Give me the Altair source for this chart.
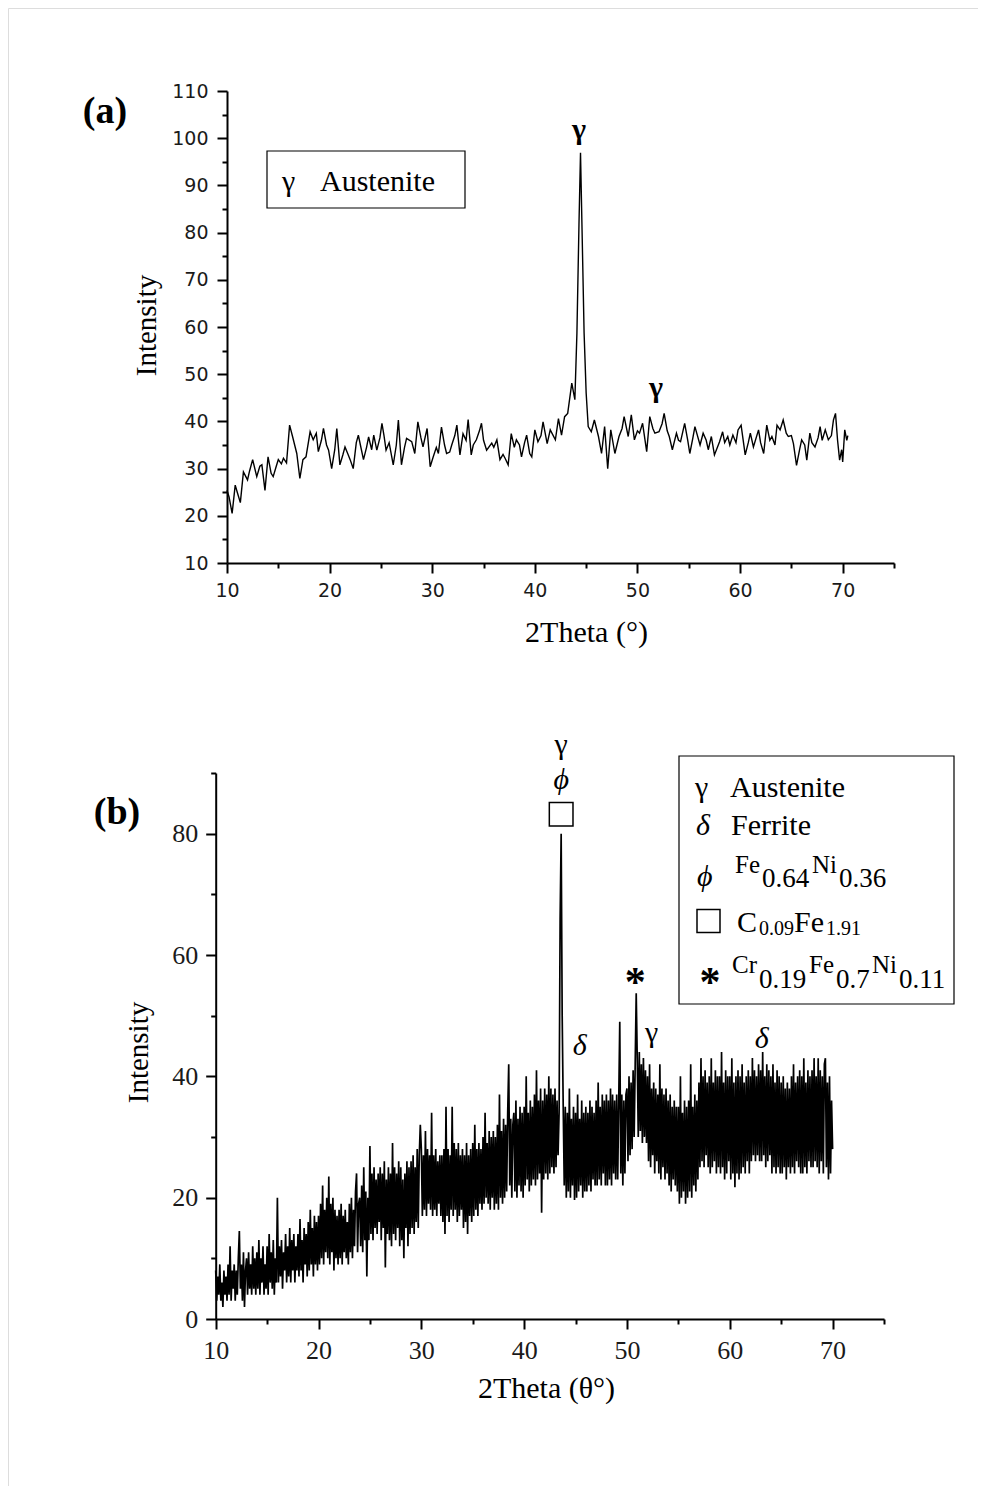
import altair as alt
import pandas as pd
import numpy as np

# ---------------- Panel (a) data ----------------
A_THETA = [10.0, 10.2, 10.5, 10.8, 11.0, 11.3, 11.6, 12.0, 12.2, 12.5, 12.9, 13.2, 13.4, 13.7, 14.0,
           14.3, 14.5, 14.8, 15.0, 15.3, 15.5, 15.8, 16.1, 16.4, 16.8, 17.1, 17.4, 17.7, 18.1, 18.4,
           18.7, 18.9, 19.2, 19.4, 19.7, 19.9, 20.2, 20.5, 20.7, 21.0, 21.3, 21.5, 21.8, 22.0, 22.3,
           22.6, 22.8, 23.0, 23.3, 23.6, 23.8, 24.1, 24.3, 24.6, 24.9, 25.1, 25.3, 25.5, 25.8, 26.2,
           26.5, 26.7, 27.0, 27.3, 27.5, 28.0, 28.3, 28.6, 28.9, 29.1, 29.5, 29.8, 30.1, 30.4, 30.6,
           30.9, 31.2, 31.4, 31.7, 31.9, 32.2, 32.4, 32.7, 33.0, 33.3, 33.5, 33.8, 34.0, 34.3, 34.6,
           34.8, 35.0, 35.3, 35.8, 36.0, 36.3, 36.6, 36.9, 37.1, 37.4, 37.7, 38.0, 38.2, 38.5, 38.7,
           39.0, 39.2, 39.5, 39.7, 40.0, 40.3, 40.6, 40.8, 41.2, 41.5, 42.0, 42.3, 42.6, 42.9, 43.2,
           43.6, 43.9, 44.1, 44.3, 44.45, 44.6, 44.8, 45.0, 45.2, 45.5, 45.8, 46.2, 46.5, 46.8, 47.1,
           47.4, 47.8, 48.2, 48.5, 48.7, 49.1, 49.4, 49.7, 50.0, 50.2, 50.5, 50.9, 51.2, 51.5, 51.7,
           52.1, 52.4, 52.6, 52.9, 53.1, 53.4, 53.8, 54.0, 54.2, 54.6, 54.9, 55.1, 55.4, 55.6, 56.1,
           56.4, 56.7, 56.9, 57.2, 57.5, 58.0, 58.3, 58.5, 58.8, 59.0, 59.3, 59.6, 59.8, 60.1, 60.5,
           60.8, 61.0, 61.3, 61.8, 62.0, 62.3, 62.6, 62.9, 63.1, 63.4, 63.6, 63.9, 64.2, 64.5, 64.7,
           65.0, 65.2, 65.5, 65.8, 66.0, 66.3, 66.5, 66.8, 67.0, 67.3, 67.6, 67.8, 68.0, 68.3, 68.6,
           68.9, 69.1, 69.3, 69.5, 69.7, 69.9, 70.0, 70.2, 70.4, 70.5]
A_INT = [25.4, 24.0, 20.5, 26.5, 25.0, 22.8, 29.3, 27.6, 29.5, 31.9, 28.3, 30.5, 30.8, 25.4, 32.5,
         29.0, 28.3, 30.5, 31.9, 31.0, 32.2, 31.2, 39.2, 36.7, 33.2, 27.9, 31.9, 32.5, 37.8, 36.1,
         37.5, 33.6, 36.0, 38.5, 35.0, 33.9, 30.0, 34.0, 38.5, 30.8, 33.0, 34.6, 33.0, 31.9, 30.0,
         35.5, 37.1, 35.0, 31.9, 34.5, 36.7, 34.0, 37.1, 33.9, 36.5, 39.6, 37.0, 33.9, 35.5, 30.8,
         35.0, 40.3, 30.8, 34.5, 36.4, 35.7, 33.2, 39.9, 36.5, 34.6, 38.5, 30.4, 32.5, 34.5, 33.2,
         38.8, 35.0, 33.2, 33.5, 35.0, 37.0, 39.2, 32.9, 37.4, 36.0, 40.4, 32.9, 35.0, 36.1, 38.0,
         39.6, 36.0, 33.9, 35.4, 34.5, 36.1, 31.9, 33.0, 32.2, 30.8, 37.4, 34.5, 36.1, 35.0, 32.5,
         35.5, 37.1, 33.2, 32.5, 38.2, 35.7, 37.0, 39.9, 35.3, 38.2, 36.1, 40.6, 37.1, 41.0, 41.7,
         48.1, 44.6, 58.7, 81.7, 96.9, 80.6, 58.7, 46.0, 38.9, 37.8, 40.3, 36.8, 33.2, 38.9, 30.0,
         38.2, 33.2, 36.8, 38.5, 41.0, 36.8, 41.4, 36.1, 38.0, 37.5, 39.6, 33.6, 41.0, 38.5, 37.5,
         37.8, 39.5, 41.7, 38.0, 36.8, 34.0, 37.5, 36.0, 35.7, 39.6, 36.0, 33.2, 36.5, 38.9, 35.0,
         37.5, 36.0, 34.0, 36.8, 32.9, 35.7, 37.8, 35.5, 36.8, 35.0, 37.1, 35.5, 38.2, 39.2, 32.9,
         35.5, 37.5, 34.6, 38.2, 35.5, 33.2, 39.2, 36.0, 36.8, 35.0, 39.2, 38.2, 40.3, 37.5, 36.8,
         37.0, 35.3, 30.7, 34.0, 36.1, 35.0, 31.8, 37.5, 35.5, 34.6, 36.5, 38.9, 36.0, 38.2, 36.1,
         37.0, 40.3, 41.7, 36.0, 31.8, 34.0, 31.4, 38.2, 36.0, 37.0]
A_PEAK_THETA = [44.3, 51.8]
A_PEAK_INT = [101.7, 47.0]
A_PEAK_LABEL = ["γ", "γ"]

# ---------------- Panel (b) data ----------------
B_THETA_START = 10.0
B_THETA_STEP = 0.1
B_INT = [
    8, 3, 7, 4, 9, 3, 6, 2, 8, 4,
    7, 3, 9, 4, 12, 3, 8, 5, 9, 3,
    8, 4, 10, 14.5, 5, 9, 3, 11, 2, 8,
    10, 4, 11, 5, 9, 4, 12, 5, 10, 4,
    11, 5, 13, 4, 10, 6, 12, 4, 9, 5,
    12, 4, 14, 6, 11, 5, 13, 4, 10, 6,
    20, 6, 12, 7, 13, 5, 11, 8, 14, 6,
    12, 7, 15, 6, 13, 8, 14, 6, 12, 8,
    14, 7, 16.5, 8, 13, 6, 15, 9, 14, 7,
    16, 8, 18, 9, 15, 7, 17, 9, 16, 8,
    17, 9, 19, 10, 22, 9, 18, 11, 20, 10,
    23.5, 9, 19, 11, 20, 8, 18, 10, 17, 9,
    18, 10, 19, 9, 17, 11, 18, 10, 16, 9,
    19, 11, 20, 10, 18, 12, 21, 24, 11, 19,
    20, 12, 22, 11, 25, 13, 21, 7, 20, 13,
    28.5, 14, 24, 13, 25, 15, 23, 14, 24, 16,
    25, 13, 24, 15, 26, 8.5, 23, 14, 25, 13,
    24, 12, 29, 14, 25, 13, 24, 15, 26, 12,
    25, 13, 23, 10, 24, 15, 26, 12, 25, 14,
    26, 15, 27, 14, 25, 16, 28, 15, 27, 32,
    28, 17, 27, 18, 31, 17, 28, 19, 27, 18,
    34, 17, 27, 18, 28, 17, 26, 19, 27, 17,
    27, 16, 28, 14, 35, 17, 28, 16, 27, 18,
    35, 17, 29, 18, 28, 16, 29, 17, 27, 18,
    28, 15, 27, 16, 29, 14, 27, 17, 28, 16,
    29, 17, 32, 18, 28, 17, 29, 19, 28, 18,
    30, 19, 34, 20, 29, 19, 31, 18, 30, 20,
    31, 18, 30, 19, 32, 18, 37, 20, 31, 19,
    33, 20, 32, 21, 34, 42, 22, 33, 20, 32,
    34, 21, 36, 20, 33, 22, 35, 21, 34, 20,
    35, 22, 40, 23, 34, 21, 36, 22, 35, 23,
    37, 22, 41, 23, 36, 24, 38, 17.5, 36, 23,
    38, 24, 37, 23, 40, 24, 38, 25, 37, 24,
    38, 25, 36, 27, 34, 66, 80, 50, 35, 22,
    35, 20, 34, 21, 38, 20, 33, 22, 35, 19.6,
    34, 20, 37, 21, 33, 22, 36, 20, 34, 21,
    35, 21, 34, 22, 36, 21, 35, 23, 34, 22,
    36, 22, 39, 23, 35, 22, 37, 24, 36, 22,
    37, 22, 36, 23, 38, 22, 37, 24, 36, 23,
    37, 23, 36, 49, 24, 37, 22, 36, 24, 37,
    38, 26, 40, 27, 39, 28, 41, 30, 42, 53.7,
    43, 30, 44, 31, 42, 29, 43, 30, 41, 29,
    40, 26, 42, 25, 38, 27, 39, 24, 38, 26,
    37, 24, 42, 23, 38, 25, 37, 23, 38, 24,
    36, 22, 37, 21, 35, 23, 36, 22, 35, 21,
    35, 19, 40, 20, 34, 21, 36, 19, 35, 20,
    36, 21, 42, 20, 35, 22, 37, 21, 36, 23,
    39, 25, 43, 26, 40, 25, 41, 27, 39, 25,
    40, 24, 43, 25, 39, 26, 41, 24, 40, 25,
    40, 24, 44, 25, 39, 23, 41, 24, 40, 26,
    40, 23, 43, 24, 39, 21.7, 40, 24, 41, 23,
    40, 24, 42, 25, 39, 24, 40, 26, 41, 24,
    40, 26, 43, 27, 41, 26, 40, 27, 42, 26,
    41, 26, 44, 27, 40, 25, 42, 26, 41, 27,
    40, 24, 42, 25, 39, 24, 41, 25, 40, 24,
    39, 24, 40, 25, 38, 23, 39, 25, 38, 24,
    40, 25, 42, 24, 39, 26, 40, 25, 41, 24,
    40, 24, 43, 25, 39, 24, 41, 26, 40, 25,
    41, 25, 43, 26, 40, 25, 43, 24, 41, 26,
    40, 24, 42, 43, 25, 39, 23, 40, 24, 36,
    28,
]
B_THETA = [round(B_THETA_START + B_THETA_STEP * i, 2) for i in range(len(B_INT))]

B_UP_LABEL = ["γ", "γ"]
B_UP_THETA = [43.6, 52.4]
B_UP_INT = [94.6, 47.1]
B_IT_LABEL = ["ϕ", "δ", "δ"]
B_IT_THETA = [43.6, 45.4, 63.1]
B_IT_INT = [88.8, 45.0, 46.1]
B_STAR_THETA = [50.8]
B_STAR_INT = [56.7]
B_BOX_THETA = [43.6]
B_BOX_INT = [83.2]

SERIF = "Liberation Serif"
W, H = 970, 1478

df_a = pd.DataFrame({"theta": A_THETA, "intensity": A_INT})
df_b = pd.DataFrame({"theta": B_THETA, "intensity": B_INT})

sx_a = alt.Scale(domain=[10, 75], range=[219, 886], nice=False, zero=False)
sy_a = alt.Scale(domain=[10, 110], range=[555, 83], nice=False, zero=False)
sx_b = alt.Scale(domain=[10, 75], range=[207.7, 876], nice=False, zero=False)
sy_b = alt.Scale(domain=[0, 90], range=[1311, 765], nice=False, zero=False)

common = dict(grid=False, tickColor="black", tickWidth=2, domainColor="black",
              domainWidth=2, labelFlush=False, labelOverlap=False)


def major_axis(values, orient, offset, title, tx, ty, lfont, lsize, lpad, tsize, angle):
    return alt.Axis(values=values, orient=orient, offset=offset, title=title,
                    titleX=tx, titleY=ty, titleAngle=angle, titleAlign="center",
                    titleBaseline="middle", titleFont=SERIF, titleFontSize=tsize,
                    titleFontWeight="normal", titleColor="black",
                    labelFont=lfont, labelFontSize=lsize, labelColor="#1a1a1a",
                    labelPadding=lpad, tickSize=10, format="d", **common)


def minor_axis(values, orient, offset):
    return alt.Axis(values=values, orient=orient, offset=offset, title=None,
                    labels=False, domain=False, tickSize=5, **common)


def txt(text, x, y, size, style="normal", weight="normal", align="left",
        baseline="alphabetic", font=SERIF):
    return alt.Chart(pd.DataFrame({"k": [0]})).mark_text(
        text=text, font=font, fontSize=size, fontStyle=style, fontWeight=weight,
        align=align, baseline=baseline, color="black"
    ).encode(x=alt.value(x), y=alt.value(y))


def box(x1, y1, x2, y2):
    return alt.Chart(pd.DataFrame({"k": [0]})).mark_rect(
        fillOpacity=0, stroke="black", strokeWidth=1.2
    ).encode(x=alt.value(x1), x2=alt.value(x2), y=alt.value(y1), y2=alt.value(y2))


# ---------------- Panel (a) ----------------
line_a = alt.Chart(df_a).mark_line(color="black", strokeWidth=1.4).encode(
    x=alt.X("theta:Q", scale=sx_a,
            axis=major_axis(list(range(10, 71, 10)), "bottom", -(H - 555), "2Theta (°)",
                            578, 69, "DejaVu Sans", 19, 8, 30, 0)),
    y=alt.Y("intensity:Q", scale=sy_a,
            axis=major_axis(list(range(10, 111, 10)), "left", -219, "Intensity",
                            -81, 317, "DejaVu Sans", 19, 9, 29, 270)),
)
minor_a = alt.Chart(df_a).mark_line(strokeOpacity=0).encode(
    x=alt.X("theta:Q", scale=sx_a, axis=minor_axis(list(range(15, 76, 10)), "bottom", -(H - 555))),
    y=alt.Y("intensity:Q", scale=sy_a, axis=minor_axis(list(range(15, 106, 10)), "left", -219)),
)
peaks_a = alt.Chart(pd.DataFrame({"theta": A_PEAK_THETA, "intensity": A_PEAK_INT,
                                  "label": A_PEAK_LABEL})).mark_text(
    font=SERIF, fontSize=30, fontWeight="bold", baseline="middle", color="black"
).encode(
    x=alt.X("theta:Q", scale=sx_a, axis=None),
    y=alt.Y("intensity:Q", scale=sy_a, axis=None),
    text="label:N",
)
panel_a = alt.layer(
    line_a, minor_a, peaks_a,
    box(259, 143, 457, 200),
    txt("γ", 274, 183, 30),
    txt("Austenite", 312, 183, 30),
    txt("(a)", 97, 104, 38, weight="bold", align="center", baseline="middle"),
).resolve_axis(x="independent", y="independent")

# ---------------- Panel (b) ----------------
line_b = alt.Chart(df_b).mark_line(color="black", strokeWidth=1.7).encode(
    x=alt.X("theta:Q", scale=sx_b,
            axis=major_axis(list(range(10, 71, 10)), "bottom", -(H - 1311), "2Theta (θ°)",
                            538, 69, SERIF, 26, 8, 30, 0)),
    y=alt.Y("intensity:Q", scale=sy_b,
            axis=major_axis(list(range(0, 81, 20)), "left", -207.7, "Intensity",
                            -77, 1044, SERIF, 26, 8, 29, 270)),
)
minor_b = alt.Chart(df_b).mark_line(strokeOpacity=0).encode(
    x=alt.X("theta:Q", scale=sx_b, axis=minor_axis(list(range(15, 76, 10)), "bottom", -(H - 1311))),
    y=alt.Y("intensity:Q", scale=sy_b, axis=minor_axis(list(range(10, 91, 20)), "left", -207.7)),
)
up_b = alt.Chart(pd.DataFrame({"theta": B_UP_THETA, "intensity": B_UP_INT,
                               "label": B_UP_LABEL})).mark_text(
    font=SERIF, fontSize=30, baseline="middle", color="black"
).encode(x=alt.X("theta:Q", scale=sx_b, axis=None),
         y=alt.Y("intensity:Q", scale=sy_b, axis=None), text="label:N")
it_b = alt.Chart(pd.DataFrame({"theta": B_IT_THETA, "intensity": B_IT_INT,
                               "label": B_IT_LABEL})).mark_text(
    font=SERIF, fontSize=30, fontStyle="italic", baseline="middle", color="black"
).encode(x=alt.X("theta:Q", scale=sx_b, axis=None),
         y=alt.Y("intensity:Q", scale=sy_b, axis=None), text="label:N")
star_b = alt.Chart(pd.DataFrame({"theta": B_STAR_THETA, "intensity": B_STAR_INT})).mark_text(
    text="*", font=SERIF, fontSize=42, fontWeight="bold", baseline="middle", dy=8, color="black"
).encode(x=alt.X("theta:Q", scale=sx_b, axis=None),
         y=alt.Y("intensity:Q", scale=sy_b, axis=None))
box_b = alt.Chart(pd.DataFrame({"theta": B_BOX_THETA, "intensity": B_BOX_INT})).mark_point(
    shape="square", filled=False, size=560, stroke="black", strokeWidth=1.5, opacity=1
).encode(x=alt.X("theta:Q", scale=sx_b, axis=None),
         y=alt.Y("intensity:Q", scale=sy_b, axis=None))
legend_sq = alt.Chart(pd.DataFrame({"k": [0]})).mark_point(
    shape="square", filled=False, size=529, stroke="black", strokeWidth=1.5, opacity=1
).encode(x=alt.value(700.5), y=alt.value(913))

panel_b = alt.layer(
    line_b, minor_b, up_b, it_b, star_b, box_b,
    box(671, 748, 946, 996),
    txt("γ", 687, 789, 30), txt("Austenite", 722, 789, 30),
    txt("δ", 688, 827, 30, style="italic"), txt("Ferrite", 723, 827, 30),
    txt("ϕ", 689, 878, 30, style="italic"),
    txt("Fe", 727, 865, 25), txt("0.64", 754, 879, 27),
    txt("Ni", 804, 865, 25), txt("0.36", 831, 879, 27),
    legend_sq,
    txt("C", 729, 924, 30), txt("0.09", 751, 927, 20),
    txt("Fe", 786, 924, 30), txt("1.91", 818, 927, 20),
    txt("*", 702, 988, 42, weight="bold", align="center"),
    txt("Cr", 724, 965, 25), txt("0.19", 751, 980, 27),
    txt("Fe", 801, 965, 25), txt("0.7", 828, 980, 27),
    txt("Ni", 864, 965, 25), txt("0.11", 891, 980, 27),
    txt("(b)", 109, 805, 38, weight="bold", align="center", baseline="middle"),
).resolve_axis(x="independent", y="independent")

chart = alt.layer(panel_a, panel_b).resolve_scale(
    x="independent", y="independent"
).properties(
    width=W, height=H, autosize=alt.AutoSizeParams(type="none"), padding=0
).configure_view(stroke="#666666", strokeWidth=1).configure(background="white")

chart.save("out.html", embed_options={"renderer": "svg", "actions": False})
